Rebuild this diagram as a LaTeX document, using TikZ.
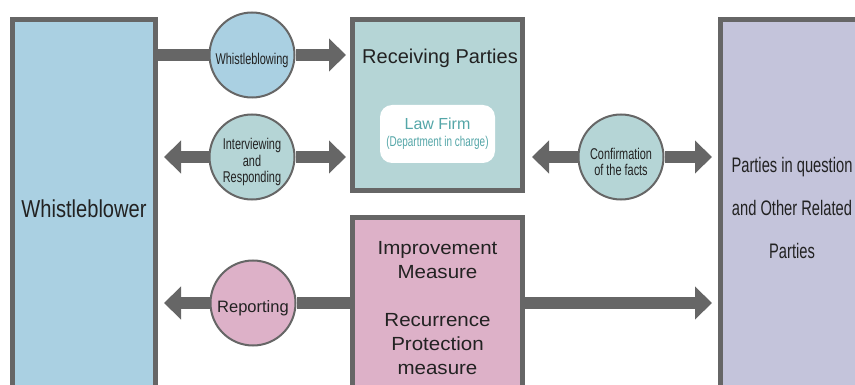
\documentclass[tikz,border=0pt]{standalone}
\usepackage{fontspec}
\setmainfont{Liberation Sans}
\newfontfamily\narrowfont[FakeStretch=0.7]{Liberation Sans}
\newfontfamily\wbfont[FakeStretch=0.82]{Liberation Sans}
\newfontfamily\widefont[FakeStretch=1.08]{Liberation Sans}
\usetikzlibrary{arrows.meta}
\definecolor{frame}{RGB}{102,102,102}
\definecolor{ink}{RGB}{34,34,34}
\definecolor{blueF}{RGB}{170,208,226}
\definecolor{tealF}{RGB}{181,213,214}
\definecolor{lilacF}{RGB}{196,196,219}
\definecolor{pinkF}{RGB}{221,177,200}
\definecolor{firmtext}{RGB}{84,166,168}
\tikzstyle{party} = [draw=frame, line width=5pt, inner sep=0pt, text=ink, align=center]
\tikzstyle{bubble} = [draw=frame, circle, line width=2pt, minimum size=85pt, inner sep=0pt]
\tikzstyle{tag} = [yshift=-5pt, inner sep=0pt, text=ink, align=center, font=\narrowfont\fontsize{15.6}{16.5}\selectfont]
\tikzstyle{firm} = [fill=white, rounded corners=12pt, minimum width=115pt, minimum height=58pt, text=firmtext, align=center]
\tikzstyle{shaft} = [draw=frame, line width=12pt]
\tikzstyle{arrow} = [shaft, -{Triangle[length=17pt, width=32pt]}]

\begin{document}
\begin{tikzpicture}[x=1pt, y=-1pt]
	\useasboundingbox (0,0) rectangle (855,385);
	\clip (0,0) rectangle (855,385);

	% the four parties
	\node[party, fill=blueF, minimum width=143pt, minimum height=379pt, font=\wbfont\fontsize{24.5}{27}\selectfont](wb) at (84,209){Whistleblower};
	\node[party, fill=tealF, minimum width=170pt, minimum height=171pt](recv) at (437.5,105){};
	\node[text=ink, font=\fontsize{20}{24}\selectfont](recvtitle) at (440,58){Receiving Parties};
	\node[firm](lawfirm) at (437.5,134){{\fontsize{16}{19}\selectfont Law Firm}\\[5pt]{\narrowfont\fontsize{14.2}{15}\selectfont (Department in charge)}};
	\node[party, fill=pinkF, minimum width=170pt, minimum height=181pt, font=\widefont\fontsize{19}{24}\selectfont](imp) at (437.5,308){Improvement\\Measure\\[24pt]Recurrence\\Protection\\measure};
	\node[party, fill=lilacF, minimum width=143pt, minimum height=377pt, font=\narrowfont\fontsize{21}{43}\selectfont](rel) at (792,208){Parties in question\\and Other Related\\Parties};

	% actions between them
	\node[bubble, fill=blueF, label={[tag]center:Whistleblowing}](blowing) at (252,55){};
	\node[bubble, fill=tealF, label={[tag]center:Interviewing\\and\\Responding}](interview) at (252,157){};
	\node[bubble, fill=tealF, label={[tag]center:Confirmation\\of the facts}](confirm) at (621,157){};
	\node[bubble, fill=pinkF, label={[tag, font=\fontsize{16.5}{19}\selectfont]center:Reporting}](report) at (253,303){};

	\draw[shaft](wb.east |- blowing) -- (blowing.west);
	\draw[arrow, shorten >=4pt](blowing.east) -- (recv.west |- blowing);
	\draw[arrow, shorten >=6pt](interview.west) -- (wb.east |- interview);
	\draw[arrow, shorten >=4pt](interview.east) -- (recv.west |- interview);
	\draw[arrow, shorten >=7pt](confirm.west) -- (recv.east |- confirm);
	\draw[arrow, shorten >=6pt](confirm.east) -- (rel.west |- confirm);
	\draw[shaft](imp.west |- report) -- (report.east);
	\draw[arrow, shorten >=6pt](report.west) -- (wb.east |- report);
	\draw[arrow, shorten >=6pt](imp.east |- report) -- (rel.west |- report);
\end{tikzpicture}
\end{document}
